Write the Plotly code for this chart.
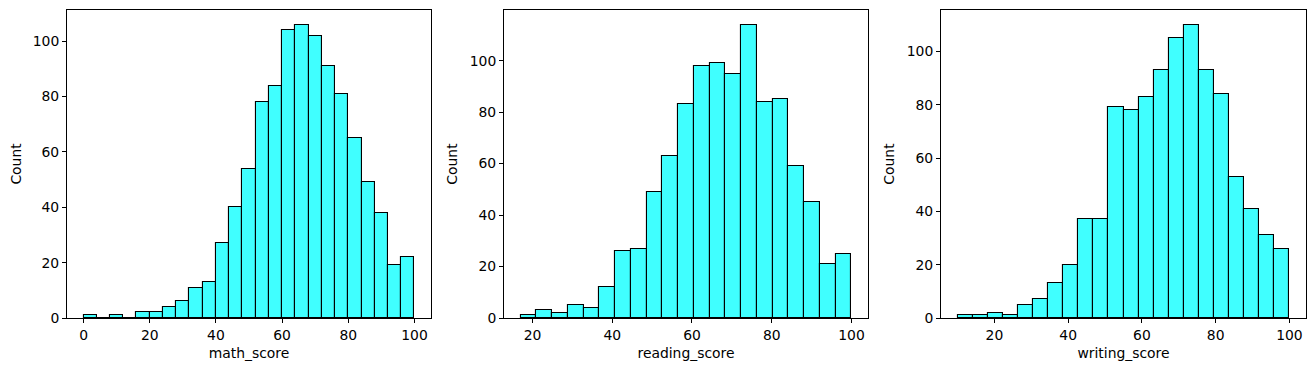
import plotly.graph_objects as go

# Histogram data (bin edges start/end and counts per bin)
math_edges = (0, 100)
math_counts = [1, 0, 1, 0, 2, 2, 4, 6, 11, 13, 27, 40, 54, 78, 84,
               104, 106, 102, 91, 81, 65, 49, 38, 19, 22]

reading_edges = (17, 100)
reading_counts = [1, 3, 2, 5, 4, 12, 26, 27, 49, 63, 83, 98, 99, 95,
                  114, 84, 85, 59, 45, 21, 25]

writing_edges = (10, 100)
writing_counts = [1, 1, 2, 1, 5, 7, 13, 20, 37, 37, 79, 78, 83, 93,
                  105, 110, 93, 84, 53, 41, 31, 26]

panels = [
    ("math_score", math_edges, math_counts, [0, 20, 40, 60, 80, 100], [0, 20, 40, 60, 80, 100]),
    ("reading_score", reading_edges, reading_counts, [20, 40, 60, 80, 100], [0, 20, 40, 60, 80, 100]),
    ("writing_score", writing_edges, writing_counts, [20, 40, 60, 80, 100], [0, 20, 40, 60, 80, 100]),
]

OFF = 8  # default page body margin
W, H = 1315 - 2 * OFF, 371 - 2 * OFF
x_px = [(67, 431), (504, 868), (941, 1306)]
y_top, y_bot = 10, 318

fig = go.Figure()
font = dict(family="DejaVu Sans", size=13.9, color="black")

for i, (name, (lo, hi), counts, xt, yt) in enumerate(panels):
    n = len(counts)
    w = (hi - lo) / n
    centers = [lo + w * (k + 0.5) for k in range(n)]
    ax = "" if i == 0 else str(i + 1)
    fig.add_trace(go.Bar(
        x=centers, y=counts, width=[w] * n,
        marker=dict(color="rgba(0,255,255,0.75)", line=dict(color="black", width=1.1)),
        xaxis="x" + ax, yaxis="y" + ax, showlegend=False,
    ))
    pad = (hi - lo) * 0.05
    ymax = max(counts) * 1.05
    x0, x1 = x_px[i]
    common = dict(showline=True, linecolor="black", linewidth=1, mirror=True,
                  ticks="outside", ticklen=4, tickcolor="black", tickwidth=1,
                  showgrid=False, zeroline=False, tickfont=font, automargin=False)
    fig.layout["xaxis" + ax] = dict(
        domain=[(x0 - OFF) / W, min(1, (x1 - OFF) / W)], range=[lo - pad, hi + pad],
        anchor="y" + ax, tickvals=xt,
        title=dict(text=name, font=font, standoff=6), **common)
    fig.layout["yaxis" + ax] = dict(
        domain=[1 - (y_bot - OFF) / H, 1 - (y_top - OFF) / H], range=[0, ymax],
        anchor="x" + ax, tickvals=yt,
        title=dict(text="Count", font=font, standoff=8), **common)

fig.update_layout(
    width=W, height=H, margin=dict(l=0, r=0, t=0, b=0),
    paper_bgcolor="white", plot_bgcolor="white", bargap=0,
)

fig.write_html("out.html")
